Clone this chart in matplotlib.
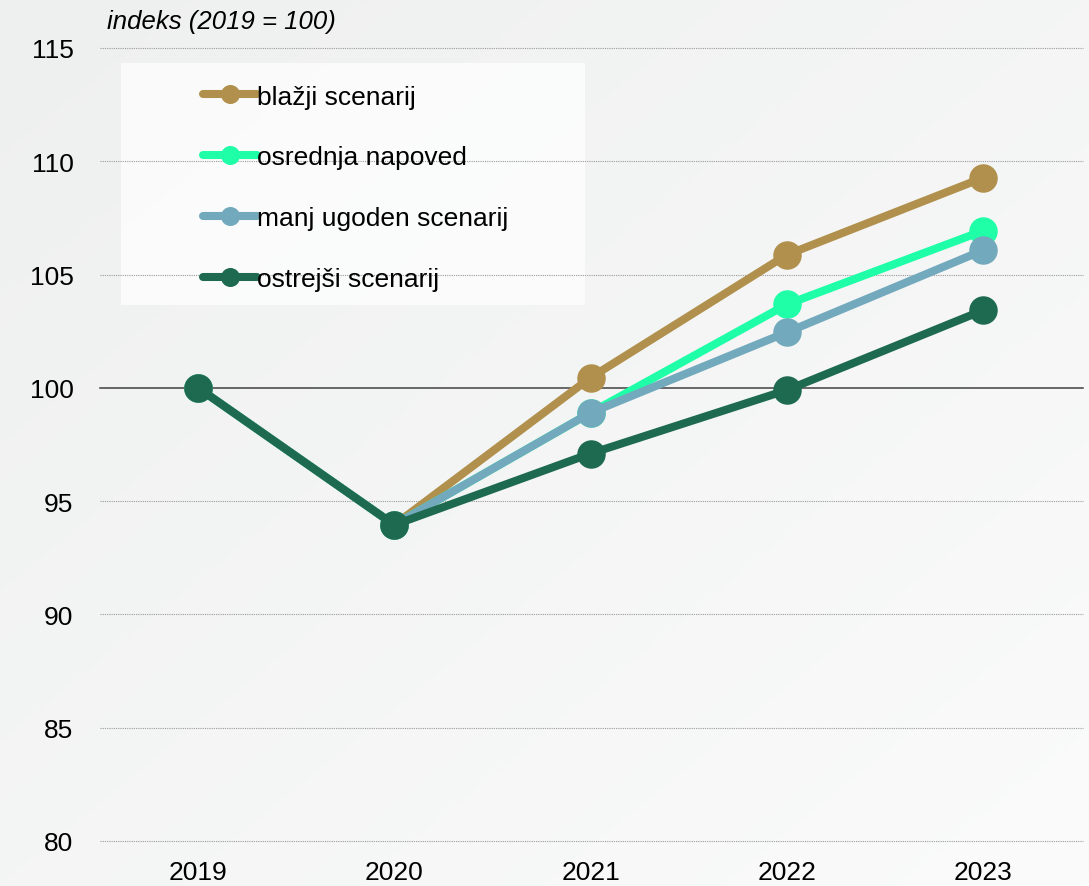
import matplotlib
matplotlib.use('Agg')
import matplotlib.pyplot as plt
import numpy as np
from matplotlib.patches import Rectangle

plt.rcParams['font.family'] = ['Liberation Sans Narrow', 'Liberation Sans', 'DejaVu Sans']

# data
years = ['2019', '2020', '2021', '2022', '2023']
blazji = [100, 93.95, 100.45, 105.87, 109.27]
osrednja = [100, 93.95, 98.9, 103.68, 106.93]
manj_ugoden = [100, 93.95, 98.9, 102.45, 106.07]
ostrejsi = [100, 93.95, 97.1, 99.9, 103.42]

series = [
    ('blažji scenarij', blazji, '#b0904c'),
    ('osrednja napoved', osrednja, '#1fffa8'),
    ('manj ugoden scenarij', manj_ugoden, '#72a9bd'),
    ('ostrejši scenarij', ostrejsi, '#1e6a50'),
]
yticks = [80, 85, 90, 95, 100, 105, 110, 115]

W, H = 1089, 887
fig = plt.figure(figsize=(W / 100, H / 100), dpi=100)

# soft gradient background + legend panel
bg = fig.add_axes([0, 0, 1, 1], zorder=-10)
gx, gy = np.meshgrid(np.linspace(0, 1, 200), np.linspace(0, 1, 200))
grad = (gx + gy) / 2
bg.imshow(grad, cmap=matplotlib.colors.LinearSegmentedColormap.from_list('bg', ['#eef0ef', '#fafbfa']),
          extent=[0, 1, 0, 1], aspect='auto', origin='upper')
bg.add_patch(Rectangle((121 / W, 1 - 306 / H), (585 - 121) / W, (306 - 64) / H,
                       transform=bg.transAxes, facecolor='white', alpha=0.7,
                       edgecolor='none'))
bg.set_xlim(0, 1)
bg.set_ylim(0, 1)
bg.axis('off')

ax = fig.add_axes([100 / W, 1 - 842 / H, 983 / W, (842 - 49) / H])
ax.set_facecolor('none')

x = np.arange(len(years))
for label, vals, color in series:
    ax.plot(x, vals, color=color, linewidth=5.8, marker='o', markersize=19.5,
            label=label, solid_capstyle='round', zorder=3)

ax.set_xlim(-0.5, 4.51)
ax.set_ylim(80, 115)
ax.set_yticks(yticks)
ax.set_xticks(x)
ax.set_xticklabels(years)
ax.tick_params(length=0, labelsize=19, pad=14)
ax.tick_params(axis='y', pad=19)
for s in ax.spines.values():
    s.set_visible(False)

for v in yticks:
    if v == 100:
        ax.axhline(v, color='#404040', linewidth=1.1, zorder=1, clip_on=False)
    else:
        ax.axhline(v, color='#9a9a9a', linewidth=0.8, linestyle=(0, (1, 1)),
                   zorder=1, clip_on=False)

ax.text(107 / W, 1 - 22 / H, 'indeks (2019 = 100)', transform=fig.transFigure,
        fontsize=18.5, fontstyle='italic', ha='left', va='center')

leg = ax.legend(loc='upper left', bbox_to_anchor=(192 / W, 1 - 75 / H),
                bbox_transform=fig.transFigure, frameon=False, fontsize=19,
                markerscale=0.65, handlelength=2.05, handletextpad=0.0,
                labelspacing=1.4, borderaxespad=0)
leg.set_zorder(5)

fig.savefig('out.png', dpi=100)
